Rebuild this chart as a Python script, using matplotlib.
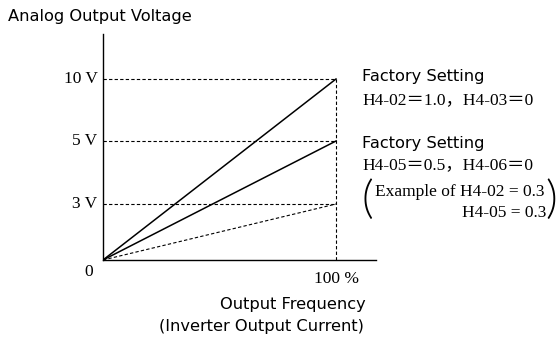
import numpy as np
import matplotlib
matplotlib.use("Agg")
import matplotlib.pyplot as plt

# output in percent of max, voltage in V
x_end = 100
volts_at_100 = [10, 5, 3]
line_styles = ["-", "-", "--"]
ytick_vals = [3, 5, 10]
ytick_text = ["3 V", "5 V", "10 V"]

# schematic voltage axis: the levels are not spaced to scale
v_pts = [0, 3, 5, 10, 12.5]
h_pts = [0, 56, 119, 181, 226]


def fwd(v):
    return np.interp(v, v_pts, h_pts)


def inv(h):
    return np.interp(h, h_pts, v_pts)


W, H = 559, 338
fig = plt.figure(figsize=(W / 100, H / 100), dpi=100)
ax = fig.add_axes([103 / W, (H - 260) / H, (376 - 103) / W, (260 - 34) / H])
ax.set_yscale("function", functions=(fwd, inv))
ax.set_xlim(0, 100 * 273 / 233)
ax.set_ylim(0, 12.5)

serif = ["Liberation Serif", "Noto Sans CJK JP"]
sans = ["DejaVu Sans"]
fs_serif = 12.5
fs_sans = 11.7

for v, ls in zip(volts_at_100, line_styles):
    if ls == "-":
        ax.plot([0, x_end], [0, v], color="black", lw=1.1)
    else:
        ax.plot([0, x_end], [0, v], color="black", lw=0.8, ls=(0, (3, 2)))
    ax.plot([0, x_end], [v, v], color="black", lw=0.8, ls=(0, (3, 2)))
ax.plot([x_end, x_end], [0, max(volts_at_100)], color="black", lw=0.8,
        ls=(0, (3, 2)))

for s in ["top", "right"]:
    ax.spines[s].set_visible(False)
ax.spines["left"].set_linewidth(1.0)
ax.spines["bottom"].set_linewidth(1.0)
ax.set_xticks([])
ax.set_yticks([])

for v, t in zip(ytick_vals, ytick_text):
    ax.annotate(t, xy=(0, v), xytext=(-4, 0), textcoords="offset points",
                ha="right", va="center", fontsize=fs_serif, family=serif)
ax.annotate("0", xy=(0, 0), xytext=(-10, -9), textcoords="offset points",
            ha="center", va="center", fontsize=fs_serif, family=serif)
ax.annotate("100 %", xy=(x_end, 0), xytext=(0, -14), textcoords="offset points",
            ha="center", va="center", fontsize=fs_serif, family=serif)

fig.text(8 / W, 1 - 17 / H, "Analog Output Voltage", ha="left", va="center",
         fontsize=fs_sans, family=sans)
fig.text(366 / W, 1 - 305 / H, "Output Frequency", ha="right", va="center",
         fontsize=fs_sans, family=sans)
fig.text(364 / W, 1 - 327 / H, "(Inverter Output Current)", ha="right",
         va="center", fontsize=fs_sans, family=sans)

fig.text(362 / W, 1 - 77 / H, "Factory Setting", ha="left", va="center",
         fontsize=fs_sans, family=sans)
fig.text(362 / W, 1 - 100 / H, "H4-02\uff1d1.0\uff0cH4-03\uff1d0", ha="left",
         va="center", fontsize=fs_serif, family=serif)
fig.text(362 / W, 1 - 143 / H, "Factory Setting", ha="left", va="center",
         fontsize=fs_sans, family=sans)
fig.text(362 / W, 1 - 165 / H, "H4-05\uff1d0.5\uff0cH4-06\uff1d0", ha="left",
         va="center", fontsize=fs_serif, family=serif)
fig.text(375 / W, 1 - 192 / H, "Example of H4-02 = 0.3", ha="left",
         va="center", fontsize=fs_serif, family=serif)
fig.text(546 / W, 1 - 213 / H, "H4-05 = 0.3", ha="right", va="center",
         fontsize=fs_serif, family=serif)
fig.text(361 / W, 1 - 200 / H, "(", ha="left", va="center", fontsize=33,
         family="Lato", fontweight=300)
fig.text(557 / W, 1 - 200 / H, ")", ha="right", va="center", fontsize=33,
         family="Lato", fontweight=300)

fig.savefig("out.png", dpi=100)
